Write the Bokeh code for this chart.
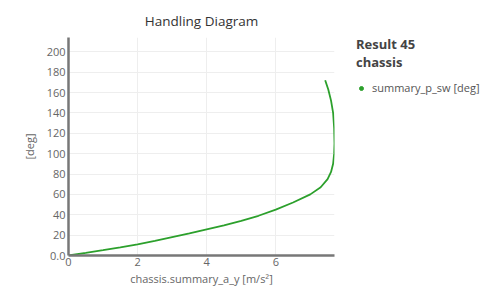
from bokeh.plotting import figure
from bokeh.models import Range1d, FixedTicker, Legend, LegendItem, ColumnDataSource
from bokeh.embed import file_html
from bokeh.resources import INLINE

# data
a_y = [0, 0.5, 1, 1.5, 2, 2.5, 3, 3.5, 4, 4.5, 5, 5.5, 6, 6.5, 7, 7.3, 7.5,
       7.6, 7.66, 7.69, 7.70, 7.69, 7.66, 7.6, 7.52, 7.43]
p_sw = [0, 2.5, 5.2, 8, 11, 14.3, 18, 21.7, 25.6, 29.5, 34, 39, 45, 52, 60,
        67, 75, 82, 90, 100, 110, 125, 140, 152, 163, 172]
x_ticks = [0, 2, 4, 6]
y_ticks = [0, 20, 40, 60, 80, 100, 120, 140, 160, 180, 200]

FONT = "Open Sans"
GREEN = "#2ca02c"

p = figure(width=487, height=283, output_backend="svg", toolbar_location=None,
           x_range=Range1d(0, 7.7), y_range=Range1d(0, 214),
           min_border_left=68, min_border_right=153, min_border_top=37,
           min_border_bottom=28)
p.frame_width = 266
p.frame_height = 218

p.title.text = "Handling Diagram"
p.title.align = "center"
p.title.text_font = FONT
p.title.text_font_size = "13.5px"
p.title.text_font_style = "normal"
p.title.text_color = "#333333"
p.title.standoff = 15

p.outline_line_color = None

src = ColumnDataSource(dict(x=a_y, y=p_sw))
line = p.line("x", "y", source=src, line_color=GREEN, line_width=1.8)
dot = p.scatter(x=[float("nan")], y=[float("nan")], size=8,
                fill_color=GREEN, line_color=GREEN)

for ax in (p.xaxis[0], p.yaxis[0]):
    ax.axis_line_color = "#777777"
    ax.axis_line_width = 2.5
    ax.major_tick_out = 0
    ax.major_tick_in = 0
    ax.minor_tick_out = 0
    ax.minor_tick_in = 0
    ax.major_tick_line_color = None
    ax.minor_tick_line_color = None
    ax.major_label_text_font = FONT
    ax.major_label_text_font_size = "11px"
    ax.major_label_text_color = "#666666"
    ax.axis_label_text_font = FONT
    ax.axis_label_text_font_size = "11px"
    ax.axis_label_text_font_style = "normal"
    ax.axis_label_text_color = "#666666"

p.xaxis.ticker = FixedTicker(ticks=x_ticks)
p.yaxis.ticker = FixedTicker(ticks=y_ticks)
p.yaxis.major_label_overrides = {0: "0.0"}
p.xaxis.axis_label = "chassis.summary_a_y [m/s²]"
p.yaxis.axis_label = "[deg]"
p.xaxis.major_label_standoff = 2
p.yaxis.major_label_standoff = 3
p.xaxis.axis_label_standoff = 2
p.yaxis.axis_label_standoff = 7

p.xgrid.grid_line_color = "#eeeeee"
p.ygrid.grid_line_color = "#eeeeee"

legend = Legend(items=[LegendItem(label="summary_p_sw [deg]", renderers=[dot])],
                location=(22, 160), orientation="vertical",
                title="Result 45\nchassis",
                title_text_font=FONT, title_text_font_size="13px",
                title_text_font_style="bold", title_text_color="#444444",
                title_text_line_height=1.6,
                title_standoff=9,
                label_text_font=FONT, label_text_font_size="11px",
                label_text_color="#555555", glyph_width=10, glyph_height=10,
                label_standoff=6, padding=0, margin=0, border_line_color=None,
                background_fill_alpha=0)
p.add_layout(legend, "right")

open("out.html", "w").write(file_html(p, INLINE))
